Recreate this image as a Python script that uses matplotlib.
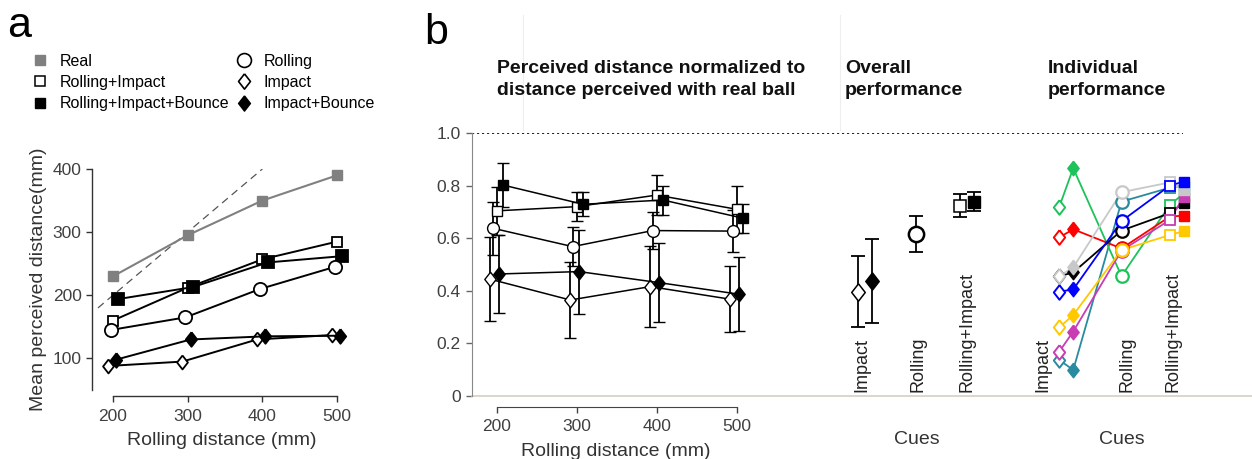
import matplotlib.pyplot as plt
from matplotlib.lines import Line2D

plt.rcParams['font.family'] = ['Liberation Sans', 'DejaVu Sans']

W, H = 1252, 459

# ---- panel a: mean perceived distance (mm)
distances = [200, 300, 400, 500]
real = [230, 295, 350, 390]
rolling_impact = [160, 212, 257, 285]
rolling_impact_bounce = [194, 213, 252, 262]
rolling = [145, 165, 210, 245]
impact = [88, 95, 130, 137]
impact_bounce = [98, 130, 135, 136]
identity = [180, 400]

# ---- panel b: normalized to real ball
norm_ri = [0.704, 0.720, 0.764, 0.710]
norm_ri_err = [0.09, 0.055, 0.075, 0.09]
norm_rib = [0.802, 0.729, 0.745, 0.676]
norm_rib_err = [0.085, 0.045, 0.055, 0.055]
norm_rolling = [0.638, 0.568, 0.629, 0.627]
norm_rolling_err = [0.10, 0.075, 0.07, 0.08]
norm_impact = [0.444, 0.365, 0.416, 0.368]
norm_impact_err = [0.16, 0.143, 0.155, 0.125]
norm_ib = [0.464, 0.473, 0.431, 0.387]
norm_ib_err = [0.15, 0.16, 0.15, 0.14]

# overall performance
cues = ['Impact', 'Rolling', 'Rolling+Impact']
overall_open = [0.397, 0.615, 0.724]      # Impact, Rolling, Rolling+Impact
overall_open_err = [0.135, 0.068, 0.045]
overall_filled = [0.438, 0.739]           # Impact+Bounce, Rolling+Impact+Bounce
overall_filled_err = [0.16, 0.035]

# individual performance (one entry per subject)
subj_colors = ['#2a8a9f', '#1ec25a', '#ff0000', '#000000',
               '#c83cb4', '#c8c8c8', '#0000ff', '#ffc800']
subj_impact = [0.137, 0.720, 0.603, 0.455, 0.169, 0.456, 0.397, 0.261]
subj_impact_bounce = [0.099, 0.866, 0.634, 0.470, 0.245, 0.489, 0.405, 0.308]
subj_rolling = [0.739, 0.456, 0.561, 0.629, 0.553, 0.775, 0.665, 0.555]
subj_rolling_impact = [0.792, 0.726, 0.682, 0.695, 0.669, 0.812, 0.800, 0.612]
subj_rib = [0.800, 0.770, 0.686, 0.735, 0.758, 0.783, 0.815, 0.627]


def px_rect(left, top, right, bottom):
    return [left / W, 1 - bottom / H, (right - left) / W, (bottom - top) / H]


diamond = [(0, 1), (0.78, 0), (0, -1), (-0.78, 0), (0, 1)]

fig = plt.figure(figsize=(W / 100, H / 100), dpi=100)

# ================= panel a
ax_a = fig.add_axes(px_rect(92, 169, 352, 390))
ax_a.plot(identity, identity, color='#555555', lw=0.9, ls=(0, (6, 4)))
ax_a.plot(distances, real, color='#808080', lw=1.5, marker='s', ms=7,
          mfc='#808080', mec='#808080')
off = {'ri': 0, 'rib': 7, 'rol': -3, 'imp': -7, 'ib': 4}
series_a = [
    (rolling_impact, off['ri'], 's', 7.5, 'white'),
    (rolling_impact_bounce, off['rib'], 's', 8.5, 'black'),
    (rolling, off['rol'], 'o', 9.5, 'white'),
    (impact, off['imp'], diamond, 10, 'white'),
    (impact_bounce, off['ib'], diamond, 10.5, 'black'),
]
for vals, dx, mk, ms, fc in series_a:
    ax_a.plot([d + dx for d in distances], vals, color='black', lw=1.4,
              marker=mk, ms=ms, mfc=fc, mec='black', mew=1.3, clip_on=False)

ax_a.set_xlim(172, 520)
ax_a.set_ylim(50, 400)
ax_a.set_xticks(distances)
ax_a.set_yticks([100, 200, 300, 400])
for s in ['top', 'right']:
    ax_a.spines[s].set_visible(False)
ax_a.spines['bottom'].set_bounds(200, 500)
ax_a.spines['bottom'].set_position(('outward', 4.5))
ax_a.spines['left'].set_bounds(50, 400)
for s in ['bottom', 'left']:
    ax_a.spines[s].set_color('#333333')
    ax_a.spines[s].set_linewidth(1.0)
ax_a.tick_params(labelsize=12.5, colors='#333333', length=4, width=1,
                 labelcolor='#404040')
ax_a.tick_params(axis='x', pad=5)
ax_a.set_xlabel('Rolling distance (mm)', fontsize=14, color='#333333', labelpad=6)
ax_a.set_ylabel('Mean perceived distance(mm)', fontsize=14, color='#333333',
                labelpad=4)

handles = [
    Line2D([], [], ls='none', marker='s', ms=6.5, mfc='#808080', mec='#808080'),
    Line2D([], [], ls='none', marker='s', ms=7, mfc='white', mec='black', mew=1.1),
    Line2D([], [], ls='none', marker='s', ms=7.5, mfc='black', mec='black'),
    Line2D([], [], ls='none', marker='o', ms=10, mfc='white', mec='black', mew=1.2),
    Line2D([], [], ls='none', marker=diamond, ms=11, mfc='white', mec='black', mew=1.2),
    Line2D([], [], ls='none', marker=diamond, ms=11, mfc='black', mec='black'),
]
labels = ['Real', 'Rolling+Impact', 'Rolling+Impact+Bounce',
          'Rolling', 'Impact', 'Impact+Bounce']
fig.legend(handles, labels, loc='upper left', bbox_to_anchor=(32 / W, 1 - 54 / H),
           ncol=2, frameon=False, fontsize=11.5, handlelength=1.0,
           handletextpad=0.75, columnspacing=0.4, labelspacing=0.38,
           borderpad=0, borderaxespad=0)

fig.text(7 / W, 1 - 26 / H, 'a', fontsize=31, va='center', ha='left')
fig.text(424 / W, 1 - 33 / H, 'b', fontsize=31, va='center', ha='left')

# ================= panel b: shared base axis
b_top, b_bot = 133, 396
ax_b = fig.add_axes(px_rect(472, b_top, 1252, b_bot))
ax_b.set_ylim(0, 1.0)
ax_b.set_xlim(0, 1)
ax_b.set_xticks([])
ax_b.set_yticks([0, 0.2, 0.4, 0.6, 0.8, 1.0])
ax_b.set_yticklabels(['0', '0.2', '0.4', '0.6', '0.8', '1.0'])
for s in ['top', 'right', 'bottom']:
    ax_b.spines[s].set_visible(False)
ax_b.spines['left'].set_color('#888888')
ax_b.tick_params(labelsize=12.5, colors='#666666', labelcolor='#404040',
                 length=4.5, width=1)
ax_b.axhline(1.0, xmin=0, xmax=(1183 - 472) / (1252 - 472), color='black',
             lw=1.2, ls=(0, (1.3, 1.7)))
ax_b.axhline(0, color='#d8cec3', lw=1.2, clip_on=False)
ax_b.patch.set_visible(False)

# b1: normalized distance vs rolling distance
ax_b1 = fig.add_axes(px_rect(472, b_top, 760, b_bot))
ax_b1.patch.set_visible(False)
series_b = [
    (norm_impact, norm_impact_err, -8, diamond, 10.5, 'white'),
    (norm_rolling, norm_rolling_err, -5, 'o', 8.5, 'white'),
    (norm_ri, norm_ri_err, 0, 's', 6.5, 'white'),
    (norm_ib, norm_ib_err, 3, diamond, 10.5, 'black'),
    (norm_rib, norm_rib_err, 8, 's', 6.5, 'black'),
]
for vals, err, dx, mk, ms, fc in series_b:
    ax_b1.errorbar([d + dx for d in distances], vals, yerr=err, color='black',
                   lw=1.1, elinewidth=1.3, capsize=4, capthick=1.3,
                   marker=mk, ms=ms, mfc=fc, mec='black', mew=1.0, clip_on=False)
ax_b1.set_xlim(200 - 24.7 / 0.8, 200 + (760 - 496.7) / 0.8)
ax_b1.set_ylim(0, 1.0)
ax_b1.set_yticks([])
ax_b1.set_xticks(distances)
for s in ['top', 'right', 'left']:
    ax_b1.spines[s].set_visible(False)
ax_b1.spines['bottom'].set_bounds(200, 500)
ax_b1.spines['bottom'].set_position(('outward', 7.7))
ax_b1.spines['bottom'].set_color('#444444')
ax_b1.tick_params(labelsize=12.5, colors='#444444', labelcolor='#404040',
                  length=4, width=1, pad=5)
ax_b1.set_xlabel('Rolling distance (mm)', fontsize=14, color='#333333',
                 labelpad=6)

# b2: overall performance
ax_b2 = fig.add_axes(px_rect(760, b_top, 1000, b_bot))
ax_b2.patch.set_visible(False)
ax_b2.set_xlim((760 - 865) / 51, (1000 - 865) / 51)
ax_b2.set_ylim(0, 1.0)
ax_b2.axis('off')
pos2 = [-0.13, 1.0, 1.87]
ax_b2.errorbar(pos2, overall_open, yerr=overall_open_err, ls='none',
               ecolor='black', elinewidth=1.3, capsize=5, capthick=1.3)
ax_b2.errorbar([0.13, 2.13], overall_filled, yerr=overall_filled_err, ls='none',
               ecolor='black', elinewidth=1.3, capsize=5, capthick=1.3)
ax_b2.plot(pos2[:1], overall_open[:1], ls='none', marker=diamond, ms=12.5,
           mfc='white', mec='black', mew=1.1)
ax_b2.plot(pos2[1:2], overall_open[1:2], ls='none', marker='o', ms=11,
           mfc='white', mec='black', mew=1.8)
ax_b2.plot(pos2[2:], overall_open[2:], ls='none', marker='s', ms=9,
           mfc='white', mec='black', mew=1.1)
ax_b2.plot([0.13], overall_filled[:1], ls='none', marker=diamond, ms=12.5,
           mfc='black', mec='black')
ax_b2.plot([2.13], overall_filled[1:], ls='none', marker='s', ms=9,
           mfc='black', mec='black')
for x, c in zip([-0.06, 1.03, 2.0], cues):
    ax_b2.text(x, 0.015, c, rotation=90, ha='center', va='bottom', fontsize=13,
               color='#222222')

# b3: individual performance
ax_b3 = fig.add_axes(px_rect(1000, b_top, 1252, b_bot))
ax_b3.patch.set_visible(False)
ax_b3.set_xlim((1000 - 1066) / 55.5, (1252 - 1066) / 55.5)
ax_b3.set_ylim(0, 1.0)
ax_b3.axis('off')
pos3 = [-0.12, 0.13, 1.0, 1.87, 2.12]
for i, col in enumerate(subj_colors):
    vals = [subj_impact[i], subj_impact_bounce[i], subj_rolling[i],
            subj_rolling_impact[i], subj_rib[i]]
    ax_b3.plot(pos3, vals, color=col, lw=1.3, zorder=2)
    ax_b3.plot(pos3[0], vals[0], marker=diamond, ms=10.5, mfc='white', mec=col,
               mew=1.4, zorder=3)
    ax_b3.plot(pos3[1], vals[1], marker=diamond, ms=10.5, mfc=col, mec=col,
               zorder=3)
    ax_b3.plot(pos3[2], vals[2], marker='o', ms=9, mfc='white', mec=col,
               mew=1.6, zorder=3)
    ax_b3.plot(pos3[3], vals[3], marker='s', ms=6.5, mfc='white', mec=col,
               mew=1.3, zorder=3)
    ax_b3.plot(pos3[4], vals[4], marker='s', ms=7, mfc=col, mec=col, zorder=3,
               clip_on=False)
for x, c in zip([-0.42, 1.1, 1.93], cues):
    ax_b3.text(x, 0.015, c, rotation=90, ha='center', va='bottom', fontsize=13,
               color='#222222')

for x in [917, 1122]:
    fig.text(x / W, 1 - 440 / H, 'Cues', fontsize=14, ha='center', va='center',
             color='#333333')

# panel b headings
title_kw = dict(fontsize=14, fontweight='bold', va='top', ha='left',
                linespacing=1.42, color='#111111')
fig.text(497 / W, 1 - 60 / H,
         'Perceived distance normalized to\ndistance perceived with real ball',
         **title_kw)
fig.text(845 / W, 1 - 60 / H, 'Overall\nperformance', **title_kw)
fig.text(1048 / W, 1 - 60 / H, 'Individual\nperformance', **title_kw)

# faint frame lines left in the original figure
for x in [523, 840]:
    fig.add_artist(Line2D([x / W, x / W], [1 - 15 / H, 1 - 130 / H],
                          color='#eeeeee', lw=0.8))

fig.savefig('out.png', dpi=100)
